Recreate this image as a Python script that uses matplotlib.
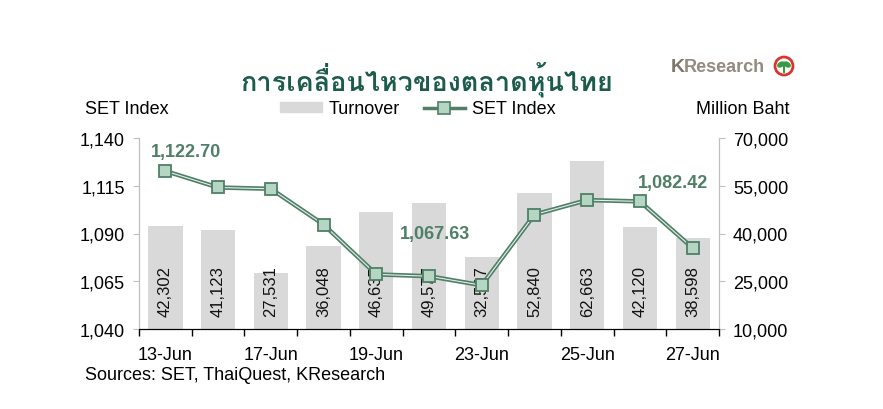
import matplotlib
matplotlib.use("Agg")
import matplotlib.pyplot as plt
from matplotlib import font_manager
from matplotlib.ft2font import FT2Font
from matplotlib.patches import Patch, Circle, Ellipse
from matplotlib.lines import Line2D
from matplotlib.ticker import FuncFormatter

dates = ["13-Jun", "14-Jun", "17-Jun", "18-Jun", "19-Jun", "20-Jun",
         "23-Jun", "24-Jun", "25-Jun", "26-Jun", "27-Jun"]
turnover = [42302, 41123, 27531, 36048, 46635, 49577,
            32507, 52840, 62663, 42120, 38598]
set_index = [1122.70, 1114.1, 1113.4, 1094.7, 1068.6, 1067.63,
             1062.9, 1099.9, 1107.5, 1106.8, 1082.42]
# which points get a value label, and offset of the label (points)
labelled = {0: (15, 14), 5: (4, 31), 10: (-14, 47)}

left_ticks = [1040, 1065, 1090, 1115, 1140]
right_ticks = [10000, 25000, 40000, 55000, 70000]

TITLE = "การเคลื่อนไหวของตลาดหุ้นไทย"
DARK_GREEN = "#4f7f67"
LIGHT_GREEN = "#b4d6c2"
BAR_GREY = "#d9d9d9"


def find_thai_font():
    for f in font_manager.fontManager.ttflist:
        try:
            if FT2Font(f.fname).get_char_index(ord("ก")):
                return f.name
        except Exception:
            pass
    return "DejaVu Sans"


plt.rcParams["font.family"] = ["Liberation Sans", "DejaVu Sans"]
plt.rcParams["font.size"] = 13

W, H = 883, 410
fig = plt.figure(figsize=(W / 100, H / 100), dpi=100)
ax_bar = fig.add_axes([139 / W, 1 - 330 / H, 580 / W, 191 / H])
ax = ax_bar.twinx()

x = list(range(len(dates)))

# turnover bars on the right-hand scale
ax_bar.bar(x, turnover, width=0.65, color=BAR_GREY, zorder=1)
ax_bar.set_ylim(10000, 70000)
ax_bar.set_yticks(right_ticks)
ax_bar.yaxis.tick_right()
ax_bar.yaxis.set_major_formatter(FuncFormatter(lambda v, p: f"{v:,.0f}"))
for i, v in enumerate(turnover):
    ax_bar.text(i, 14000, f"{v:,}", rotation=90, ha="center", va="bottom",
                fontsize=12, color="#111111")

# SET index line on the left-hand scale (dark line with a light core)
ax.plot(x, set_index, color=DARK_GREEN, lw=3.2, zorder=3,
        solid_joinstyle="round")
ax.plot(x, set_index, color="#e4f0e8", lw=0.8, zorder=4)
ax.plot(x, set_index, ls="none", marker="s", ms=9, mfc=LIGHT_GREEN,
        mec=DARK_GREEN, mew=1.3, zorder=5)
ax.set_ylim(1040, 1140)
ax.set_yticks(left_ticks)
ax.yaxis.tick_left()
ax.yaxis.set_major_formatter(FuncFormatter(lambda v, p: f"{v:,.0f}"))
for i, (dx, dy) in labelled.items():
    ax.annotate(f"{set_index[i]:,.2f}", (i, set_index[i]),
                xytext=(dx, dy), textcoords="offset points",
                ha="center", va="center", fontsize=13, fontweight="bold",
                color=DARK_GREEN)

ax_bar.set_xlim(-0.5, len(dates) - 0.5)
ax_bar.set_xticks(x[::2])
ax_bar.set_xticklabels(dates[::2])
ax_bar.set_xticks([i - 0.5 for i in range(len(dates) + 1)], minor=True)
ax_bar.tick_params(axis="x", which="major", length=0, pad=12)
ax_bar.tick_params(axis="x", which="minor", length=5, width=1,
                   color="black", direction="out")

for a in (ax, ax_bar):
    a.spines["top"].set_visible(False)
    a.spines["left"].set_color("#bfbfbf")
    a.spines["right"].set_color("#bfbfbf")
    a.spines["bottom"].set_color("black")
    a.tick_params(axis="y", length=4, color="#bfbfbf", pad=6)

# title and side texts
fig.text(427 / W, 1 - 80 / H, TITLE, ha="center", va="center",
         fontsize=19.5, fontweight="bold", color="#1d5c4c",
         family=[find_thai_font(), "DejaVu Sans"])
fig.text(85 / W, 1 - 110 / H, "SET Index", ha="left", va="center")
fig.text(790 / W, 1 - 110 / H, "Million Baht", ha="right", va="center")
fig.text(85 / W, 1 - 376 / H, "Sources: SET, ThaiQuest, KResearch",
         ha="left", va="center")

# KResearch logo
fig.text(671 / W, 1 - 67 / H, "K", ha="left", va="center", fontsize=14,
         fontweight="bold", color="#7f766b")
fig.text(684 / W, 1 - 67 / H, "Research", ha="left", va="center",
         fontsize=13, fontweight="bold", color="#948b80")
ax_logo = fig.add_axes([773 / W, 1 - 78 / H, 22 / W, 22 / H])
ax_logo.set_xlim(-1.1, 1.1)
ax_logo.set_ylim(-1.1, 1.1)
ax_logo.axis("off")
ax_logo.add_patch(Circle((0, 0), 0.9, fc="white", ec="#d9352c", lw=2))
ax_logo.add_patch(Ellipse((-0.3, 0.15), 0.7, 0.4, angle=30, color="#3a9a44"))
ax_logo.add_patch(Ellipse((0.3, 0.15), 0.7, 0.4, angle=-30, color="#3a9a44"))
ax_logo.plot([0, 0], [-0.6, 0.1], color="#3a9a44", lw=1.5)

# legend
bar_h = Patch(color=BAR_GREY)
line_h = Line2D([], [], color=DARK_GREEN, lw=2.5, marker="s", ms=8,
                mfc=LIGHT_GREEN, mec=DARK_GREEN, mew=1.2)
fig.legend([bar_h, line_h], ["Turnover", "SET Index"],
           loc="center", bbox_to_anchor=(418 / W, 1 - 110 / H), ncol=2,
           frameon=False, handlelength=2.3, handleheight=0.5,
           handletextpad=0.4, columnspacing=1.3, borderpad=0)

fig.savefig("out.png", dpi=100)
